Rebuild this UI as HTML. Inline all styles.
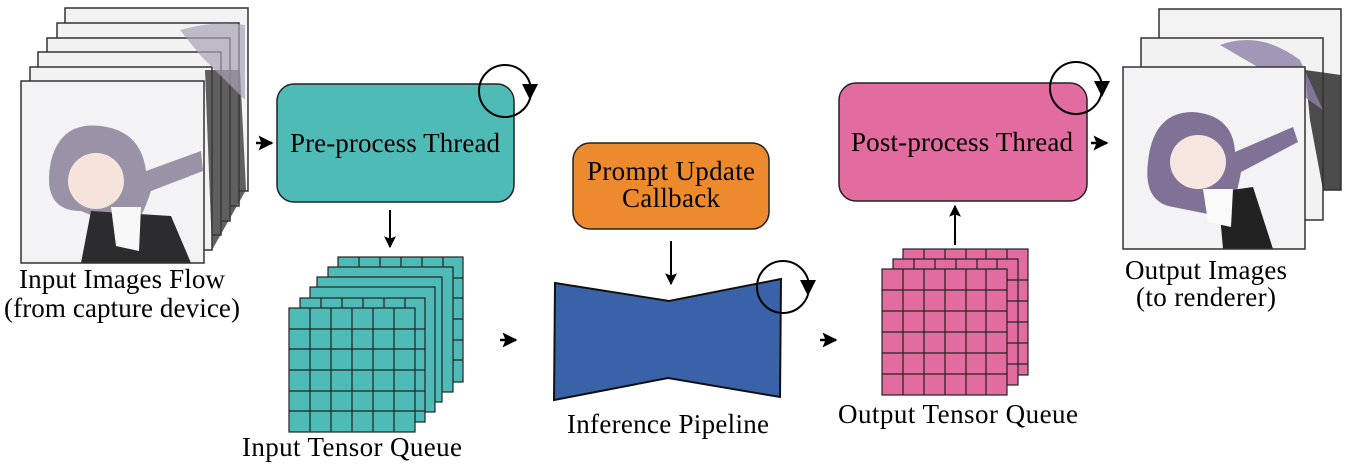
<!DOCTYPE html>
<html><head><meta charset="utf-8"><style>
html,body{margin:0;padding:0;background:#fff;}
svg{display:block;}
text{font-family:"Liberation Serif",serif;fill:#000;}
</style></head><body>
<svg width="1345" height="468" viewBox="0 0 1345 468" xmlns="http://www.w3.org/2000/svg">
<defs>
<marker id="ah" viewBox="0 0 10 10" refX="9" refY="5" markerWidth="6" markerHeight="6" orient="auto"><path d="M0,0 L10,5 L0,10 L2,5 z" fill="#000"/></marker>
</defs>

<!-- input image stack -->
<g stroke="#333" stroke-width="1.5">
  <rect x="65" y="8" width="183" height="183" fill="#f3f3f3"/>
  <rect x="57" y="23" width="182" height="183" fill="#f2f2f2"/>
  <rect x="47" y="38" width="183" height="183" fill="#f2f2f2"/>
  <rect x="38" y="52" width="183" height="183" fill="#f2f2f2"/>
  <rect x="30" y="67" width="182" height="183" fill="#f2f2f2"/>
</g>
<path d="M205,70 L240,70 L246,190 L212,250z" fill="#3a3a3a" opacity="0.8"/>
<path d="M180,30 Q215,20 245,25 L245,100 L200,55z" fill="#a9a2b6" opacity="0.7"/>
<g transform="translate(21,81)">
  <rect x="0" y="0" width="183" height="182" fill="#f3f2f4"/>
  <path d="M30,80 Q40,40 80,45 Q120,50 125,90 L180,70 L182,90 L130,110 Q120,140 110,150 L60,130 Q20,130 30,80z" fill="#9a93a8"/>
  <ellipse cx="75" cy="100" rx="28" ry="28" fill="#f6e4dc"/>
  <path d="M70,130 L150,135 L170,182 L60,182z" fill="#2c2c2e"/>
  <path d="M90,126 L120,126 L118,170 L95,165z" fill="#f8f8f8"/>
</g>
<rect x="21" y="81" width="183" height="182" fill="none" stroke="#333" stroke-width="1.5"/>
<text x="122" y="288" font-size="27" text-anchor="middle" textLength="206">Input Images Flow</text>
<text x="122" y="317" font-size="27" text-anchor="middle" textLength="236">(from capture device)</text>

<line x1="256" y1="143" x2="272" y2="143" stroke="#000" stroke-width="2.5" marker-end="url(#ah)"/>

<!-- Pre-process -->
<rect x="277" y="84" width="237" height="118" rx="17" fill="#4fbbb7" stroke="#222" stroke-width="1.5"/>
<text x="395" y="152" font-size="27" text-anchor="middle" textLength="210">Pre-process Thread</text>
<circle cx="505" cy="91" r="26" fill="none" stroke="#000" stroke-width="2"/>
<path d="M522,84 L538,84 L530,100z" fill="#000"/>

<line x1="390" y1="210" x2="390" y2="247" stroke="#000" stroke-width="2" marker-end="url(#ah)"/>

<!-- input tensor queue -->
<g stroke="#222" stroke-width="1.2" fill="#4fbbb7">
  <rect x="338" y="257" width="125" height="125"/>
  <rect x="328" y="267" width="125" height="125"/>
  <rect x="317" y="277" width="125" height="125"/>
  <rect x="310" y="287" width="125" height="125"/>
  <rect x="300" y="298" width="125" height="124"/>
  <rect x="289" y="308" width="126" height="124"/>
</g>
<g stroke="#222" stroke-width="1.2">
  <line x1="310" y1="308" x2="310" y2="432"/><line x1="331" y1="308" x2="331" y2="432"/><line x1="352" y1="308" x2="352" y2="432"/><line x1="373" y1="308" x2="373" y2="432"/><line x1="394" y1="308" x2="394" y2="432"/>
  <line x1="289" y1="329" x2="415" y2="329"/><line x1="289" y1="349" x2="415" y2="349"/><line x1="289" y1="370" x2="415" y2="370"/><line x1="289" y1="391" x2="415" y2="391"/><line x1="289" y1="411" x2="415" y2="411"/>
  <line x1="359" y1="257" x2="359" y2="267"/><line x1="380" y1="257" x2="380" y2="267"/><line x1="401" y1="257" x2="401" y2="267"/><line x1="422" y1="257" x2="422" y2="267"/><line x1="443" y1="257" x2="443" y2="267"/>
  <line x1="453" y1="278" x2="463" y2="278"/><line x1="453" y1="298" x2="463" y2="298"/><line x1="453" y1="319" x2="463" y2="319"/><line x1="453" y1="340" x2="463" y2="340"/><line x1="453" y1="360" x2="463" y2="360"/>
  <line x1="415" y1="329" x2="425" y2="329"/><line x1="415" y1="349" x2="425" y2="349"/><line x1="415" y1="370" x2="425" y2="370"/><line x1="415" y1="391" x2="425" y2="391"/><line x1="415" y1="411" x2="425" y2="411"/>
  <line x1="321" y1="298" x2="321" y2="308"/><line x1="342" y1="298" x2="342" y2="308"/><line x1="363" y1="298" x2="363" y2="308"/><line x1="384" y1="298" x2="384" y2="308"/><line x1="405" y1="298" x2="405" y2="308"/>
</g>
<text x="352" y="456" font-size="27" text-anchor="middle" textLength="220">Input Tensor Queue</text>

<line x1="500" y1="340" x2="516" y2="340" stroke="#000" stroke-width="2.5" marker-end="url(#ah)"/>

<!-- prompt -->
<rect x="573" y="143" width="196" height="86" rx="17" fill="#ee8a2e" stroke="#222" stroke-width="1.5"/>
<text x="671" y="180" font-size="27" text-anchor="middle" textLength="168">Prompt Update</text>
<text x="671" y="207" font-size="27" text-anchor="middle" textLength="98">Callback</text>
<line x1="671" y1="241" x2="671" y2="284" stroke="#000" stroke-width="2" marker-end="url(#ah)"/>

<!-- bowtie -->
<polygon points="555,283 669,301 781,279 780,397 668,378 554,400" fill="#3a62a8" stroke="#111" stroke-width="2"/>
<circle cx="783" cy="287" r="26" fill="none" stroke="#000" stroke-width="2"/>
<path d="M800,280 L816,280 L808,296z" fill="#000"/>
<text x="668" y="433" font-size="27" text-anchor="middle" textLength="202">Inference Pipeline</text>

<line x1="820" y1="340" x2="836" y2="340" stroke="#000" stroke-width="2.5" marker-end="url(#ah)"/>

<!-- output tensor queue -->
<g stroke="#222" stroke-width="1.2" fill="#e26ca0">
  <rect x="903" y="249" width="125" height="126"/>
  <rect x="893" y="259" width="125" height="126"/>
  <rect x="882" y="269" width="125" height="126"/>
</g>
<g stroke="#222" stroke-width="1.2">
  <line x1="903" y1="269" x2="903" y2="395"/><line x1="924" y1="269" x2="924" y2="395"/><line x1="945" y1="269" x2="945" y2="395"/><line x1="966" y1="269" x2="966" y2="395"/><line x1="986" y1="269" x2="986" y2="395"/>
  <line x1="882" y1="290" x2="1007" y2="290"/><line x1="882" y1="311" x2="1007" y2="311"/><line x1="882" y1="332" x2="1007" y2="332"/><line x1="882" y1="353" x2="1007" y2="353"/><line x1="882" y1="374" x2="1007" y2="374"/>
  <line x1="924" y1="249" x2="924" y2="259"/><line x1="945" y1="249" x2="945" y2="259"/><line x1="966" y1="249" x2="966" y2="259"/><line x1="986" y1="249" x2="986" y2="259"/><line x1="1007" y1="249" x2="1007" y2="259"/>
  <line x1="914" y1="259" x2="914" y2="269"/><line x1="935" y1="259" x2="935" y2="269"/><line x1="956" y1="259" x2="956" y2="269"/><line x1="977" y1="259" x2="977" y2="269"/><line x1="997" y1="259" x2="997" y2="269"/>
  <line x1="1007" y1="280" x2="1028" y2="280"/><line x1="1007" y1="301" x2="1028" y2="301"/><line x1="1007" y1="322" x2="1028" y2="322"/><line x1="1007" y1="343" x2="1028" y2="343"/><line x1="1007" y1="364" x2="1028" y2="364"/>
</g>
<text x="958" y="423" font-size="27" text-anchor="middle" textLength="240">Output Tensor Queue</text>

<line x1="955" y1="245" x2="955" y2="206" stroke="#000" stroke-width="2" marker-end="url(#ah)"/>

<!-- post process -->
<rect x="839" y="83" width="248" height="118" rx="17" fill="#e26ca0" stroke="#222" stroke-width="1.5"/>
<text x="962" y="151" font-size="27" text-anchor="middle" textLength="222">Post-process Thread</text>
<circle cx="1076" cy="88" r="26" fill="none" stroke="#000" stroke-width="2"/>
<path d="M1094,81 L1110,81 L1102,97z" fill="#000"/>

<line x1="1091" y1="143" x2="1107" y2="143" stroke="#000" stroke-width="2.5" marker-end="url(#ah)"/>

<!-- output images -->
<g stroke="#333" stroke-width="1.5">
  <rect x="1159" y="9" width="182" height="181" fill="#f3f3f3"/>
  <rect x="1141" y="38" width="182" height="182" fill="#f2f2f2"/>
</g>
<path d="M1305,70 L1341,75 L1341,190 L1323,190 L1310,120z" fill="#2e2e2e" opacity="0.85"/>
<path d="M1220,45 Q1260,30 1300,60 L1323,110 L1280,80z" fill="#8e7fa8" opacity="0.8"/>
<g transform="translate(1123,67)">
  <rect x="0" y="0" width="182" height="182" fill="#f3f2f4"/>
  <path d="M25,95 Q30,45 70,45 Q110,48 112,85 L170,60 L175,75 L118,105 Q112,140 100,150 L50,140 Q20,135 25,95z" fill="#7f7296"/>
  <ellipse cx="75" cy="95" rx="28" ry="27" fill="#f7e6e0"/>
  <path d="M95,125 L130,120 L150,182 L100,182z" fill="#222"/>
  <path d="M80,122 L110,122 L108,160 L85,155z" fill="#fafafa"/>
</g>
<rect x="1123" y="67" width="182" height="182" fill="none" stroke="#333" stroke-width="1.5"/>
<text x="1206" y="279" font-size="27" text-anchor="middle" textLength="162">Output Images</text>
<text x="1206" y="306" font-size="27" text-anchor="middle" textLength="140">(to renderer)</text>
</svg>
</body></html>
